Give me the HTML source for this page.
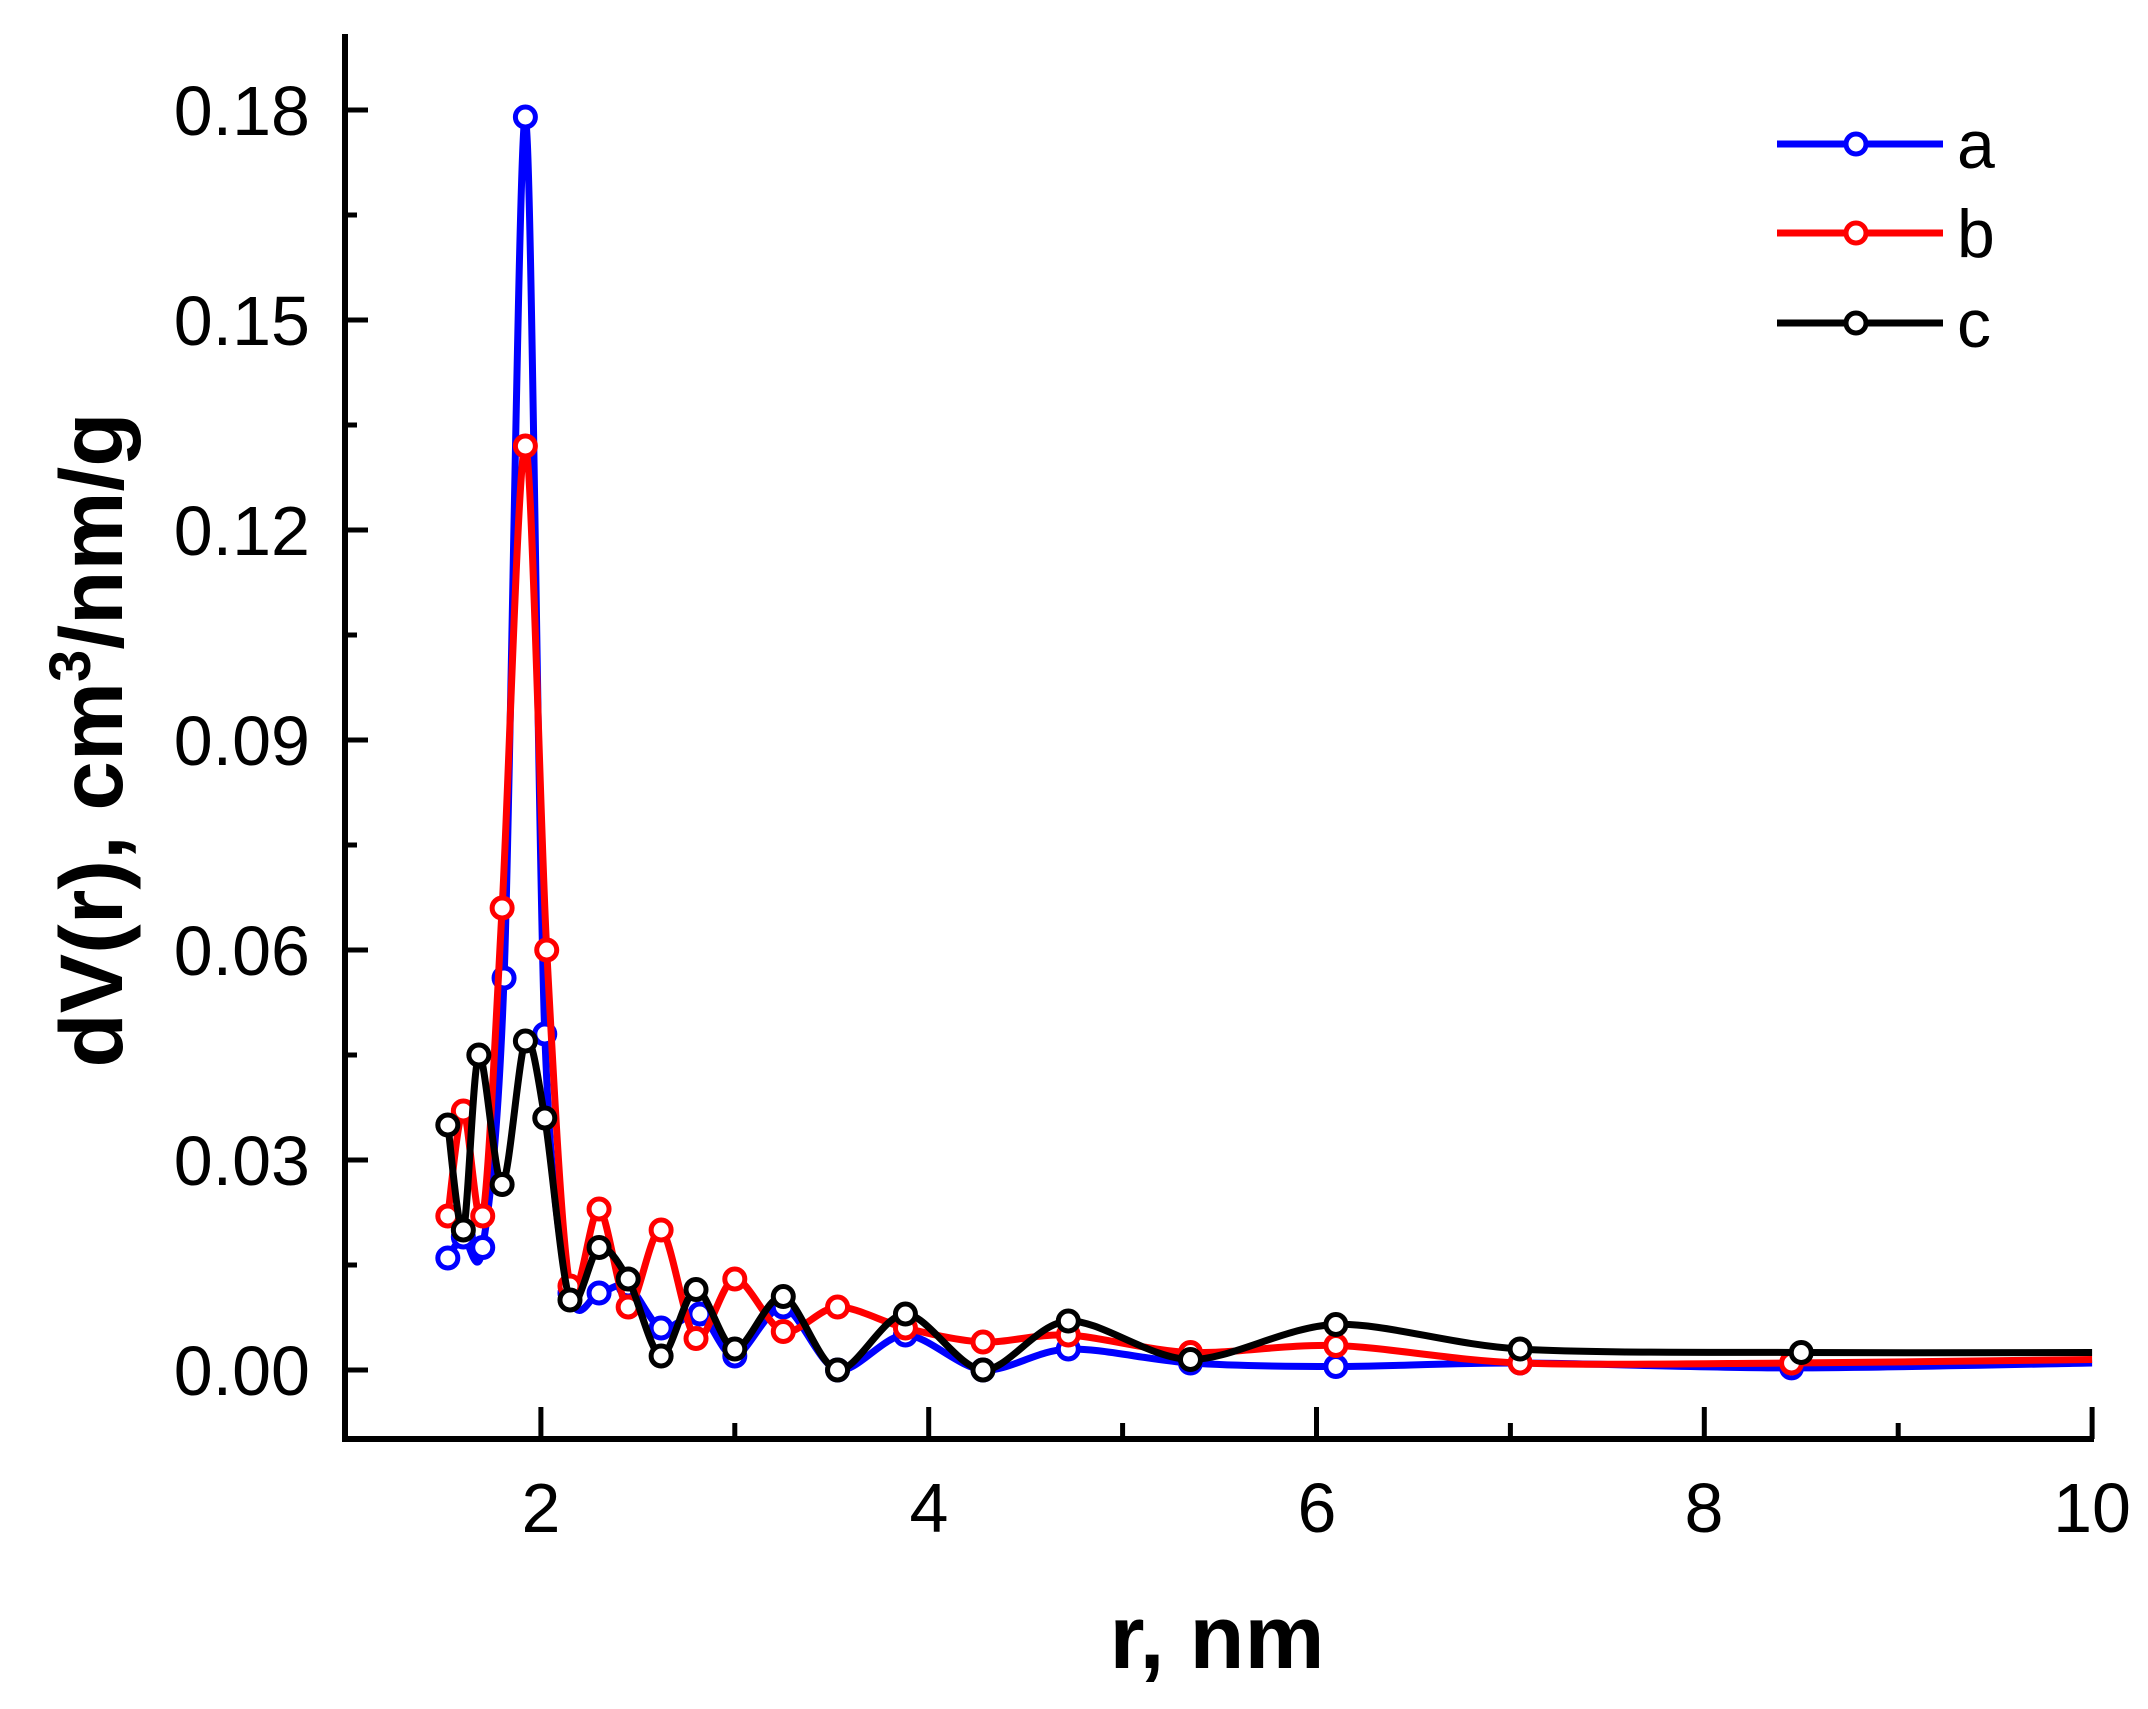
<!DOCTYPE html>
<html><head><meta charset="utf-8"><style>
html,body{margin:0;padding:0;background:#fff;}
svg{display:block;}
text{font-family:"Liberation Sans",Arial,sans-serif;}
</style></head><body>
<svg id="s" width="2148" height="1709" viewBox="0 0 2148 1709" xmlns="http://www.w3.org/2000/svg">
<g id="plot"></g>
<g stroke="#000" stroke-width="6" fill="none">
<line x1="345" y1="34" x2="345" y2="1442"/>
<line x1="342" y1="1439" x2="2094" y2="1439"/>
</g>
<g id="ticks" stroke="#000" stroke-width="5"></g>
<g font-size="70" fill="#000" text-anchor="end">
<text x="310" y="1395">0.00</text>
<text x="310" y="1185">0.03</text>
<text x="310" y="975">0.06</text>
<text x="310" y="765">0.09</text>
<text x="310" y="555">0.12</text>
<text x="310" y="345">0.15</text>
<text x="310" y="135">0.18</text>
</g>
<g font-size="70" fill="#000" text-anchor="middle">
<text x="541" y="1532">2</text>
<text x="929" y="1532">4</text>
<text x="1317" y="1532">6</text>
<text x="1704" y="1532">8</text>
<text x="2092" y="1532">10</text>
</g>
<text x="1217" y="1668" font-size="90" font-weight="bold" text-anchor="middle">r, nm</text>
<text transform="translate(122,740) rotate(-90)" font-size="89" font-weight="bold" text-anchor="middle">dV(r), cm<tspan font-size="58" dy="-32">3</tspan><tspan dy="32">/nm/g</tspan></text>
<g stroke-width="7">
<line x1="1777" y1="144" x2="1943" y2="144" stroke="#0000ff"/>
<circle cx="1856" cy="144" r="10" fill="#fff" stroke="#0000ff" stroke-width="5"/>
<line x1="1777" y1="233" x2="1943" y2="233" stroke="#ff0000"/>
<circle cx="1856" cy="233" r="10" fill="#fff" stroke="#ff0000" stroke-width="5"/>
<line x1="1777" y1="323" x2="1943" y2="323" stroke="#000"/>
<circle cx="1856" cy="323" r="10" fill="#fff" stroke="#000" stroke-width="5"/>
</g>
<g font-size="68" fill="#000">
<text x="1957" y="168">a</text>
<text x="1957" y="257">b</text>
<text x="1957" y="347">c</text>
</g>
</svg>
<script>
var NS="http://www.w3.org/2000/svg";
function X(r){return 347+(r-1)*193.9;}
function Y(v){return 1370-v*7000;}
var t=document.getElementById("ticks");
function ln(x1,y1,x2,y2){var l=document.createElementNS(NS,"line");l.setAttribute("x1",x1);l.setAttribute("y1",y1);l.setAttribute("x2",x2);l.setAttribute("y2",y2);t.appendChild(l);}
for(var i=0;i<=12;i++){var y=Y(i*0.015);ln(345,y,i%2==0?368:357,y);}
for(var r=2;r<=10;r++){var x=X(r);ln(x,1439,x,r%2==0?1407:1423);}
var A=[[1.52,0.016],[1.6,0.019],[1.7,0.0175],[1.81,0.056],[1.92,0.179],[2.02,0.048],[2.15,0.011],[2.3,0.011],[2.45,0.012],[2.62,0.006],[2.82,0.008],[3.0,0.002],[3.25,0.009],[3.53,0.0],[3.88,0.005],[4.28,0.0],[4.72,0.003],[5.35,0.001],[6.1,0.0005],[7.05,0.001],[8.45,0.0003],[10,0.001]];
var B=[[1.52,0.022],[1.6,0.037],[1.7,0.022],[1.8,0.066],[1.92,0.132],[2.03,0.060],[2.15,0.012],[2.3,0.023],[2.45,0.009],[2.62,0.020],[2.8,0.0045],[3.0,0.013],[3.25,0.0055],[3.53,0.009],[3.88,0.006],[4.28,0.004],[4.72,0.005],[5.35,0.0025],[6.1,0.0035],[7.05,0.001],[8.45,0.001],[10,0.0015]];
var C=[[1.52,0.035],[1.6,0.020],[1.68,0.045],[1.8,0.0265],[1.92,0.047],[2.02,0.036],[2.15,0.010],[2.3,0.0175],[2.45,0.013],[2.62,0.002],[2.8,0.0115],[3.0,0.003],[3.25,0.0105],[3.53,0.0],[3.88,0.008],[4.28,0.0],[4.72,0.007],[5.35,0.0015],[6.1,0.0065],[7.05,0.003],[8.5,0.0025],[10,0.0025]];
var g=document.getElementById("plot");
function draw(d,col){
 var p=d.map(function(q){return [X(q[0]),Y(q[1])];});
 var s="M"+p[0][0]+","+p[0][1];
 for(var i=0;i<p.length-1;i++){
  var p0=p[Math.max(0,i-1)],p1=p[i],p2=p[i+1],p3=p[Math.min(p.length-1,i+2)];
  var k=0.15;
  s+=" C"+(p1[0]+(p2[0]-p0[0])*k)+","+(p1[1]+(p2[1]-p0[1])*k)+" "+(p2[0]-(p3[0]-p1[0])*k)+","+(p2[1]-(p3[1]-p1[1])*k)+" "+p2[0]+","+p2[1];
 }
 var path=document.createElementNS(NS,"path");path.setAttribute("d",s);path.setAttribute("fill","none");path.setAttribute("stroke",col);path.setAttribute("stroke-width","7");path.setAttribute("stroke-linejoin","round");g.appendChild(path);
 for(var i=0;i<p.length-1;i++){var c=document.createElementNS(NS,"circle");c.setAttribute("cx",p[i][0]);c.setAttribute("cy",p[i][1]);c.setAttribute("r","10");c.setAttribute("fill","#fff");c.setAttribute("stroke",col);c.setAttribute("stroke-width","5");g.appendChild(c);}
}
draw(A,"#0000ff");draw(B,"#ff0000");draw(C,"#000000");
</script>
</body></html>
